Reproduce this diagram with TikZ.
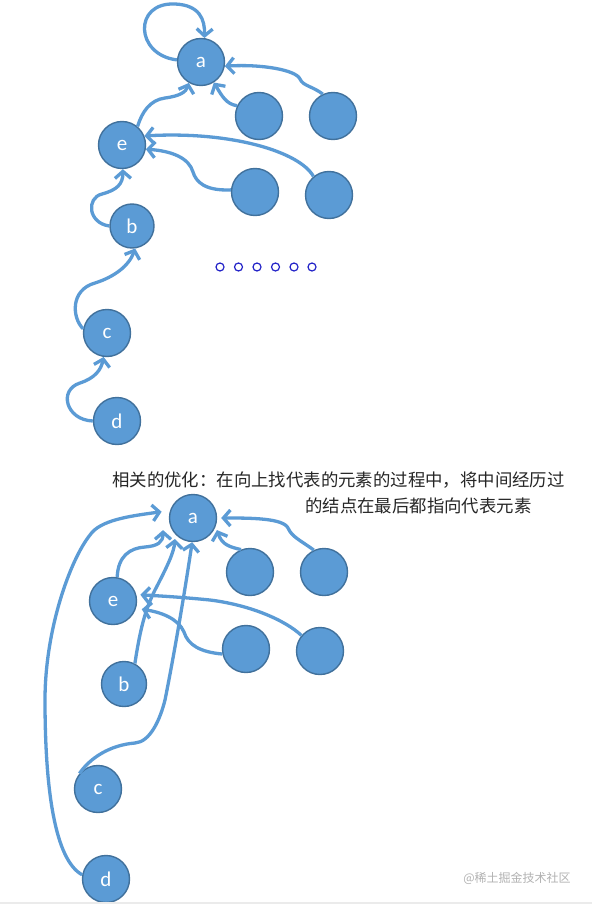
\documentclass[tikz,border=0pt]{standalone}
\usepackage{fontspec}
\newfontfamily\cjk{Noto Sans CJK SC}
\newfontfamily\labelfont{Carlito}
\usepackage{tikz}
\usetikzlibrary{arrows.meta}
\definecolor{nodefill}{HTML}{5B9BD5}
\definecolor{nodeedge}{HTML}{41719C}
\definecolor{dotblue}{HTML}{2424C8}

\begin{document}
\begin{tikzpicture}[x=1pt, y=-1pt,
  vert/.style={circle, draw=nodeedge, fill=nodefill, line width=1.4pt, minimum size=47pt, inner sep=0pt, text=white, font=\labelfont\fontsize{21}{21}\selectfont},
  link/.style={draw=nodefill, line width=3.3pt, -{Straight Barb[length=7pt,width=16pt]}},
  note/.style={font=\cjk\fontsize{17.4}{17.4}\selectfont, text=black!85, inner sep=0pt, anchor=west}]
\useasboundingbox (0,0) rectangle (592,904);
\fill[white] (0,0) rectangle (592,904);
% first tree
\node[vert] (a) at (201,62) {a};
\node[vert] (p) at (259,116) {};
\node[vert] (q) at (333,116) {};
\node[vert] (e) at (122,145) {e};
\node[vert] (r) at (255,192) {};
\node[vert] (s) at (329,195) {};
\node[vert, minimum size=44pt] (b) at (132,226) {b};
\node[vert] (c) at (107,333) {c};
\node[vert] (d) at (117,421) {d};
\draw[link] (a.175) .. controls (135,55) and (133,2) .. (175,4) .. controls (200,5) and (205,20) .. (a.82);
\draw[link] (e.50) .. controls (142,112) and (150,100) .. (165,98) .. controls (180,96) and (186,92) .. (a.240);
\draw[link] (p.155) .. controls (226,104) and (222,96) .. (a.302);
\draw[link] (q.115) .. controls (312,86) and (303,86) .. (300,79) .. controls (296,70) and (262,64) .. (a.350);
\draw[link] (r.175) .. controls (205,191) and (196,182) .. (193,172) .. controls (189,158) and (172,151) .. (e.350);
\draw[link] (s.130) .. controls (300,152) and (232,131) .. (e.22);
\draw[link] (b.180) .. controls (88,223) and (86,198) .. (102,194) .. controls (117,190) and (123,184) .. (e.272);
\draw[link] (c.170) .. controls (72,318) and (70,290) .. (95,283) .. controls (114,277) and (129,266) .. (b.278);
\draw[link] (d.180) .. controls (66,420) and (58,390) .. (80,383) .. controls (95,378) and (101,370) .. (c.262);
\foreach \x in {220,238.5,257,275.5,294,312}
  \draw[dotblue, line width=1.2pt] (\x,267) circle (4);
% note
\node[note] (hint) at (112,480) {相关的优化：在向上找代表的元素的过程中，将中间经历过};
\node[note] (hint2) at (305,506) {的结点在最后都指向代表元素};
% second tree
\node[vert] (a2) at (193,518) {a};
\node[vert] (p2) at (250,572) {};
\node[vert] (q2) at (324,572) {};
\node[vert] (e2) at (113,601) {e};
\node[vert] (r2) at (246,649) {};
\node[vert] (s2) at (320,651) {};
\node[vert, minimum size=45pt] (b2) at (124,684) {b};
\node[vert] (c2) at (98,789) {c};
\node[vert] (d2) at (106,879) {d};
\draw[link] (e2.80) .. controls (118,556) and (130,548) .. (145,547) .. controls (158,546) and (163,542) .. ([xshift=-9pt]a2.210);
\draw[link] (b2.62) .. controls (140,630) and (145,610) .. (155,590) .. controls (168,565) and (174,552) .. ([xshift=-6pt]a2.240);
\draw[link] (c2.140) .. controls (90,758) and (110,745) .. (135,743) .. controls (150,742) and (160,720) .. (165,700) .. controls (175,650) and (185,590) .. (a2.268);
\draw[link] (d2.170) .. controls (55,860) and (45,790) .. (45,700) .. controls (45,630) and (70,560) .. (90,535) .. controls (100,520) and (130,516) .. ([xshift=-8pt]a2.165);
\draw[link] (p2.112) .. controls (230,547) and (222,545) .. ([xshift=3pt]a2.330);
\draw[link] (q2.115) .. controls (300,540) and (292,537) .. (288,528) .. controls (283,518) and (250,518) .. ([xshift=4pt]a2.0);
\draw[link] (r2.192) .. controls (200,652) and (188,645) .. (184,632) .. controls (178,618) and (160,612) .. ([xshift=6pt]e2.340);
\draw[link] (s2.140) .. controls (285,620) and (250,605) .. (210,600) .. controls (180,597) and (160,596) .. ([xshift=4pt]e2.15);
\node[font=\cjk\fontsize{12}{12}\selectfont, text=black!30] (mark) at (517,878) {@稀土掘金技术社区};
\draw[black!8, line width=1.5pt] (0,903) -- (592,903);
\end{tikzpicture}
\end{document}
